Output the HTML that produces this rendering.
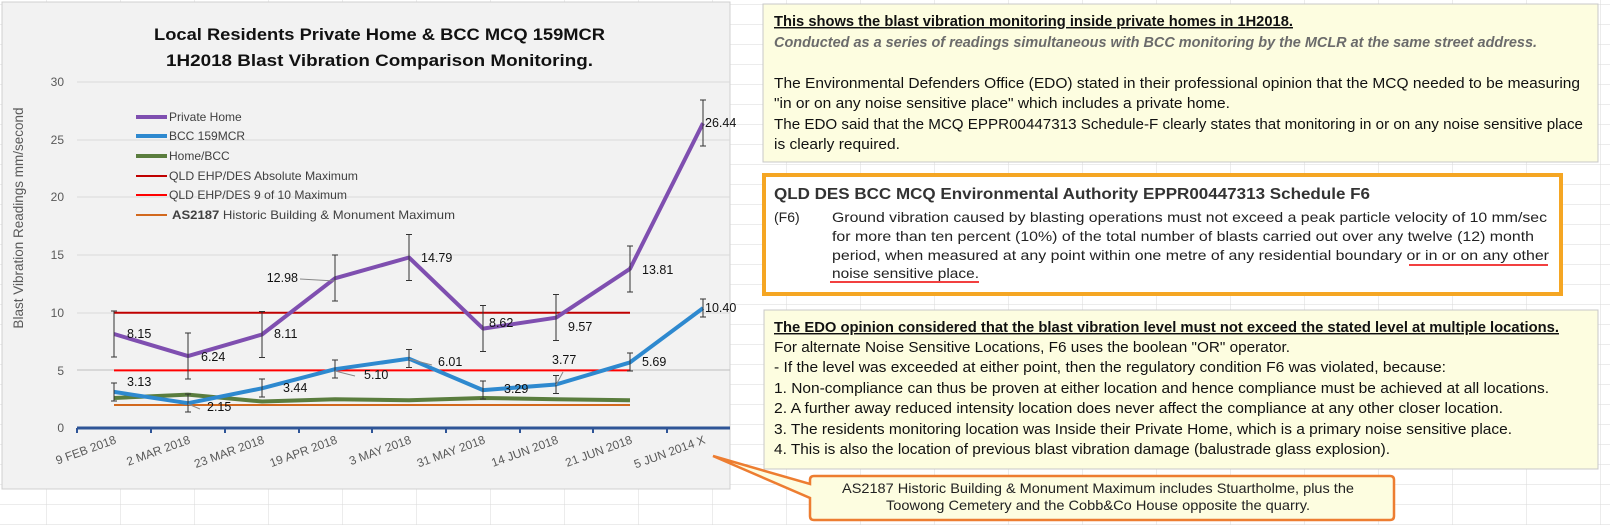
<!DOCTYPE html>
<html><head><meta charset="utf-8"><style>
body{margin:0;width:1610px;height:525px;overflow:hidden;background:#fff;font-family:"Liberation Sans",sans-serif}
</style></head><body>
<svg width="1610" height="525" xmlns="http://www.w3.org/2000/svg" font-family="Liberation Sans, sans-serif">
<defs>
<pattern id="g" width="74" height="20" patternUnits="userSpaceOnUse" x="46" y="4">
<path d="M0 0H74M0 0V20" stroke="#dadada" stroke-width="1" fill="none"/>
</pattern>
</defs>
<rect width="1610" height="525" fill="url(#g)"/>
<rect x="2" y="2" width="728" height="487" fill="#f2f2f2" stroke="#d0d0d0"/>
<text x="154" y="40" textLength="451" lengthAdjust="spacingAndGlyphs" font-size="17" font-weight="bold" fill="#111">Local Residents Private Home &amp; BCC MCQ 159MCR</text>
<text x="166" y="66" textLength="427" lengthAdjust="spacingAndGlyphs" font-size="17" font-weight="bold" fill="#111">1H2018 Blast Vibration Comparison Monitoring.</text>
<g stroke="#d9d9d9" stroke-width="1">
<line x1="77" y1="82" x2="730" y2="82"/><line x1="77" y1="140" x2="730" y2="140"/><line x1="77" y1="197" x2="730" y2="197"/><line x1="77" y1="255" x2="730" y2="255"/><line x1="77" y1="313" x2="730" y2="313"/><line x1="77" y1="370" x2="730" y2="370" stroke="#bfbfbf"/>
</g>
<g font-size="12" fill="#595959" text-anchor="end">
<text x="64" y="86">30</text><text x="64" y="144">25</text><text x="64" y="201">20</text><text x="64" y="259">15</text><text x="64" y="317">10</text><text x="64" y="375">5</text><text x="64" y="432">0</text>
</g>
<text transform="translate(23,218) rotate(-90)" text-anchor="middle" font-size="13.5" fill="#595959">Blast Vibration Readings mm/second</text>
<g font-size="12" fill="#404040">
<line x1="136" y1="117" x2="167" y2="117" stroke="#7f4fb0" stroke-width="4"/><text x="169" y="121">Private Home</text>
<line x1="136" y1="136" x2="167" y2="136" stroke="#2e89cf" stroke-width="4"/><text x="169" y="140">BCC 159MCR</text>
<line x1="136" y1="156" x2="167" y2="156" stroke="#5a7d3e" stroke-width="4"/><text x="169" y="160">Home/BCC</text>
<line x1="136" y1="176" x2="167" y2="176" stroke="#c00000" stroke-width="2"/><text x="169" y="180" textLength="189" lengthAdjust="spacingAndGlyphs">QLD EHP/DES Absolute Maximum</text>
<line x1="136" y1="195" x2="167" y2="195" stroke="#ff0000" stroke-width="2"/><text x="169" y="199" textLength="178" lengthAdjust="spacingAndGlyphs">QLD EHP/DES 9 of 10 Maximum</text>
<line x1="136" y1="215" x2="167" y2="215" stroke="#d2691e" stroke-width="2"/><text x="172" y="219" textLength="283" lengthAdjust="spacingAndGlyphs"><tspan font-weight="bold">AS2187</tspan>   Historic Building &amp; Monument Maximum</text>
</g>
<line x1="114" y1="312.7" x2="630" y2="312.7" stroke="#c00000" stroke-width="2"/>
<line x1="114" y1="370.4" x2="630" y2="370.4" stroke="#ff0000" stroke-width="2"/>
<line x1="114" y1="405" x2="630" y2="405" stroke="#d2691e" stroke-width="2"/>
<line x1="77" y1="428" x2="730" y2="428" stroke="#2f5597" stroke-width="3"/>
<g stroke="#2f5597" stroke-width="2">
<line x1="77" y1="428" x2="77" y2="433"/><line x1="151" y1="428" x2="151" y2="433"/><line x1="225" y1="428" x2="225" y2="433"/><line x1="299" y1="428" x2="299" y2="433"/><line x1="372" y1="428" x2="372" y2="433"/><line x1="446" y1="428" x2="446" y2="433"/><line x1="520" y1="428" x2="520" y2="433"/><line x1="593" y1="428" x2="593" y2="433"/><line x1="667" y1="428" x2="667" y2="433"/>
</g>
<polyline points="114,398 188,394.6 262,401.5 335,399.2 409,400.3 483,398 556,399.2 630,400.3" fill="none" stroke="#5a7d3e" stroke-width="4"/>
<polyline points="114,391.9 188,403.2 262,388.3 335,369.2 409,358.7 483,390.1 556,384.5 630,362.4 703,308.1" fill="none" stroke="#2e89cf" stroke-width="4" stroke-linejoin="round"/>
<polyline points="114,334 188,356.1 262,334.5 335,278.3 409,257.5 483,328.6 556,317.7 630,268.8 703,123.2" fill="none" stroke="#7f4fb0" stroke-width="4" stroke-linejoin="round"/>
<g stroke="#333" stroke-width="1">
<path d="M114 311V357M111 311H117M111 357H117"/>
<path d="M188 333V379M185 333H191M185 379H191"/>
<path d="M262 311.5V357.5M259 311.5H265M259 357.5H265"/>
<path d="M335 255V301M332 255H338M332 301H338"/>
<path d="M409 234.5V280.5M406 234.5H412M406 280.5H412"/>
<path d="M483 305.5V351.5M480 305.5H486M480 351.5H486"/>
<path d="M556 294.5V340.5M553 294.5H559M553 340.5H559"/>
<path d="M630 246V292M627 246H633M627 292H633"/>
<path d="M703 100V146M700 100H706M700 146H706"/>
<path d="M114 383V401M111 383H117M111 401H117"/>
<path d="M188 394V412M185 394H191M185 412H191"/>
<path d="M262 379V397M259 379H265M259 397H265"/>
<path d="M335 360V378M332 360H338M332 378H338"/>
<path d="M409 349.5V367.5M406 349.5H412M406 367.5H412"/>
<path d="M483 381V399M480 381H486M480 399H486"/>
<path d="M556 375.5V393.5M553 375.5H559M553 393.5H559"/>
<path d="M630 353V371M627 353H633M627 371H633"/>
<path d="M703 299V317M700 299H706M700 317H706"/>
</g>
<g stroke="#888" stroke-width="1" fill="none">
<path d="M300 279L335 281"/><path d="M335 371L355 376"/><path d="M409 359L432 365"/><path d="M556 385L563 372"/><path d="M188 404L200 409"/>
</g>
<g font-size="12.5" fill="#111">
<text x="127" y="338">8.15</text><text x="201" y="361">6.24</text><text x="274" y="338">8.11</text><text x="298" y="282" text-anchor="end">12.98</text><text x="421" y="262">14.79</text><text x="489" y="327">8.62</text><text x="568" y="331">9.57</text><text x="642" y="274">13.81</text><text x="705" y="127">26.44</text>
<text x="127" y="386">3.13</text><text x="207" y="411">2.15</text><text x="283" y="392">3.44</text><text x="364" y="379">5.10</text><text x="438" y="366">6.01</text><text x="504" y="393">3.29</text><text x="552" y="364">3.77</text><text x="642" y="366">5.69</text><text x="705" y="312">10.40</text>
</g>
<g font-size="12" fill="#595959" text-anchor="end">
<text transform="translate(117,443) rotate(-20)">9 FEB 2018</text>
<text transform="translate(191,443) rotate(-20)">2 MAR 2018</text>
<text transform="translate(265,443) rotate(-20)">23 MAR 2018</text>
<text transform="translate(338,443) rotate(-20)">19 APR 2018</text>
<text transform="translate(412,443) rotate(-20)">3 MAY 2018</text>
<text transform="translate(486,443) rotate(-20)">31 MAY 2018</text>
<text transform="translate(559,443) rotate(-20)">14 JUN 2018</text>
<text transform="translate(633,443) rotate(-20)">21 JUN 2018</text>
<text transform="translate(706,443) rotate(-20)">5 JUN 2014 X</text>
</g>
<rect x="763" y="4" width="835" height="158" fill="#fdfde0" stroke="#c8c8c8"/>
<g font-size="14.5" fill="#111" lengthAdjust="spacingAndGlyphs">
<text x="774" y="26" textLength="519" lengthAdjust="spacingAndGlyphs" font-weight="bold" text-decoration="underline">This shows the blast vibration monitoring inside private homes in 1H2018.</text>
<text x="774" y="47" textLength="763" lengthAdjust="spacingAndGlyphs" font-weight="bold" font-style="italic" fill="#6b6b6b">Conducted as a series of readings simultaneous with BCC monitoring by the MCLR at the same street address.</text>
<text x="774" y="88" textLength="806" lengthAdjust="spacingAndGlyphs">The Environmental Defenders Office (EDO) stated in their professional opinion that the MCQ needed to be measuring</text>
<text x="774" y="108" textLength="456" lengthAdjust="spacingAndGlyphs">"in or on any noise sensitive place" which includes a private home.</text>
<text x="774" y="129" textLength="809" lengthAdjust="spacingAndGlyphs">The EDO said that the MCQ EPPR00447313 Schedule-F clearly states that monitoring in or on any noise sensitive place</text>
<text x="774" y="149" textLength="126" lengthAdjust="spacingAndGlyphs">is clearly required.</text>
</g>
<rect x="764" y="175" width="797" height="119" fill="#fff" stroke="#f5a623" stroke-width="4"/>
<g fill="#222">
<text x="774" y="199" textLength="596" lengthAdjust="spacingAndGlyphs" font-size="16" font-weight="bold" fill="#333">QLD DES BCC MCQ Environmental Authority EPPR00447313 Schedule F6</text>
<g font-size="14">
<text x="774" y="222">(F6)</text>
<text x="832" y="222" textLength="715" lengthAdjust="spacingAndGlyphs">Ground vibration caused by blasting operations must not exceed a peak particle velocity of 10 mm/sec</text>
<text x="832" y="241" textLength="702" lengthAdjust="spacingAndGlyphs">for more than ten percent (10%) of the total number of  blasts carried out over any twelve (12) month</text>
<text x="832" y="260" textLength="717" lengthAdjust="spacingAndGlyphs">period, when measured at any  point within one metre of any residential boundary or in or on any other</text>
<text x="832" y="278" textLength="147" lengthAdjust="spacingAndGlyphs">noise sensitive place.</text>
</g>
</g>
<line x1="1409" y1="265" x2="1548" y2="265" stroke="#e00" stroke-width="1.5"/>
<line x1="830" y1="282" x2="979" y2="282" stroke="#e00" stroke-width="1.5"/>
<rect x="764" y="310" width="834" height="159" fill="#fdfde0" stroke="#c8c8c8"/>
<g font-size="14.5" fill="#111">
<text x="774" y="332" textLength="785" lengthAdjust="spacingAndGlyphs" font-weight="bold" text-decoration="underline">The EDO opinion considered that the blast vibration level must not exceed the stated level at multiple locations.</text>
<text x="774" y="352" textLength="516" lengthAdjust="spacingAndGlyphs">For alternate Noise Sensitive Locations, F6 uses the boolean "OR" operator.</text>
<text x="774" y="372" textLength="672" lengthAdjust="spacingAndGlyphs">- If the level was exceeded at either point, then the regulatory condition F6 was violated, because:</text>
<text x="774" y="393" textLength="775" lengthAdjust="spacingAndGlyphs">1. Non-compliance can thus be proven at either location and hence compliance must be achieved at all locations.</text>
<text x="774" y="413" textLength="729" lengthAdjust="spacingAndGlyphs">2. A further away reduced intensity location does never affect the compliance at any other closer location.</text>
<text x="774" y="434" textLength="738" lengthAdjust="spacingAndGlyphs">3. The residents monitoring location was Inside their Private Home, which is a primary noise sensitive place.</text>
<text x="774" y="454" textLength="616" lengthAdjust="spacingAndGlyphs">4. This is also the location of previous blast vibration damage (balustrade glass explosion).</text>
</g>
<path d="M814 476H1390Q1394 476 1394 480V516Q1394 520 1390 520H814Q810 520 810 516V498L713 456L810 484V480Q810 476 814 476Z" fill="#fdfde0" stroke="#ed7d31" stroke-width="2.5"/>
<g font-size="14" fill="#222">
<text x="842" y="493" textLength="512" lengthAdjust="spacingAndGlyphs">AS2187 Historic Building &amp; Monument Maximum includes Stuartholme, plus the</text>
<text x="886" y="510" textLength="424" lengthAdjust="spacingAndGlyphs">Toowong Cemetery and the Cobb&amp;Co House opposite the quarry.</text>
</g>
</svg>
</body></html>
